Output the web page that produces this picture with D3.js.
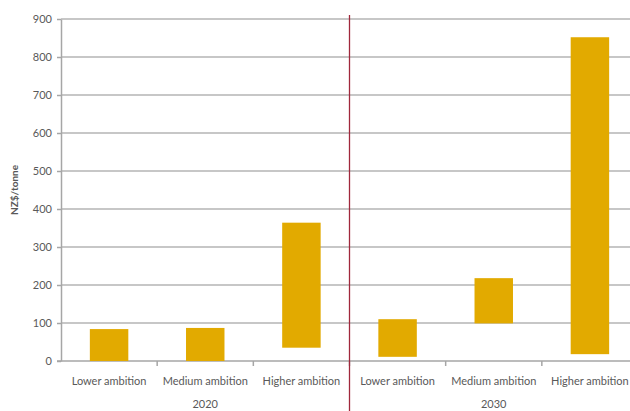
<!DOCTYPE html>
<html>
<head>
<meta charset="utf-8">
<script src="https://cdn.jsdelivr.net/npm/d3@7"></script>
<style>
  html, body { margin: 0; padding: 0; background: #fff; }
  svg { display: block; }
  text { font-family: Lato, "Open Sans", sans-serif; fill: #595959; }
</style>
</head>
<body>
<svg id="chart" width="630" height="411"></svg>
<script>
// Carbon price ranges (NZ$/tonne) by ambition level, for 2020 and 2030
const years = ["2020", "2030"];
const levels = ["Lower ambition", "Medium ambition", "Higher ambition"];
const lowValues  = [0, 0, 35, 11, 99, 18];
const highValues = [84, 87, 364, 110, 218, 852];
const yTicks = [0, 100, 200, 300, 400, 500, 600, 700, 800, 900];

const categories = [];
years.forEach(y => levels.forEach(l => categories.push(y + "|" + l)));

const svg = d3.select("#chart");
const margin = { left: 61, top: 19, bottom: 50 };
const plotRight = 638;
const plotBottom = 361;

const x = d3.scaleBand().domain(categories).range([margin.left, plotRight]).paddingInner(0).paddingOuter(0);
const y = d3.scaleLinear().domain([0, 900]).range([plotBottom, margin.top]);

// horizontal gridlines
svg.append("g")
  .selectAll("line")
  .data(yTicks.filter(d => d > 0))
  .join("line")
  .attr("x1", margin.left).attr("x2", plotRight)
  .attr("y1", d => y(d)).attr("y2", d => y(d))
  .attr("stroke", "#b4b4b4").attr("stroke-width", 1.5);

// y axis
const yAxis = svg.append("g")
  .attr("transform", `translate(${margin.left},0)`)
  .call(d3.axisLeft(y).tickValues(yTicks).tickSize(4).tickSizeOuter(0).tickPadding(5));
yAxis.select(".domain").attr("stroke", "#a6a6a6").attr("stroke-width", 1.5);
yAxis.selectAll(".tick line").attr("stroke", "#a6a6a6").attr("stroke-width", 1.5);
yAxis.selectAll(".tick text").style("font-size", "11px").attr("fill", "#595959");

// x axis with ticks between categories
const xAxisG = svg.append("g").attr("transform", `translate(0,${plotBottom})`);
xAxisG.append("line")
  .attr("x1", margin.left - 4).attr("x2", plotRight)
  .attr("stroke", "#a6a6a6").attr("stroke-width", 1.5);
xAxisG.selectAll("line.sep")
  .data(categories.slice(1))
  .join("line")
  .attr("class", "sep")
  .attr("x1", d => x(d)).attr("x2", d => x(d))
  .attr("y1", 0).attr("y2", 5)
  .attr("stroke", "#a6a6a6").attr("stroke-width", 1.5);
xAxisG.selectAll("text.cat")
  .data(categories)
  .join("text")
  .attr("class", "cat")
  .attr("x", d => x(d) + x.bandwidth() / 2)
  .attr("y", 24)
  .attr("text-anchor", "middle")
  .style("font-size", "11px")
  .text(d => d.split("|")[1]);

// year group labels
years.forEach(yr => {
  const first = x(yr + "|" + levels[0]);
  const last = x(yr + "|" + levels[levels.length - 1]) + x.bandwidth();
  svg.append("text")
    .attr("x", (first + last) / 2)
    .attr("y", plotBottom + 47)
    .attr("text-anchor", "middle")
    .style("font-size", "11px")
    .text(yr);
});

// range bars
const barW = x.bandwidth() * 0.4;
svg.append("g")
  .selectAll("rect")
  .data(categories)
  .join("rect")
  .attr("x", d => x(d) + (x.bandwidth() - barW) / 2)
  .attr("width", barW)
  .attr("y", (d, i) => y(highValues[i]))
  .attr("height", (d, i) => y(lowValues[i]) - y(highValues[i]))
  .attr("fill", "#e2aa00");

// divider between the two years
const divX = x(years[1] + "|" + levels[0]);
svg.append("line")
  .attr("x1", divX).attr("x2", divX)
  .attr("y1", 15).attr("y2", 411)
  .attr("stroke", "#a0283c").attr("stroke-width", 1.3);

// y axis title
svg.append("text")
  .attr("transform", `translate(18,${(margin.top + plotBottom) / 2}) rotate(-90)`)
  .attr("text-anchor", "middle")
  .style("font-size", "10px")
  .style("font-weight", "bold")
  .attr("fill", "#404040")
  .text("NZ$/tonne");
</script>
</body>
</html>
